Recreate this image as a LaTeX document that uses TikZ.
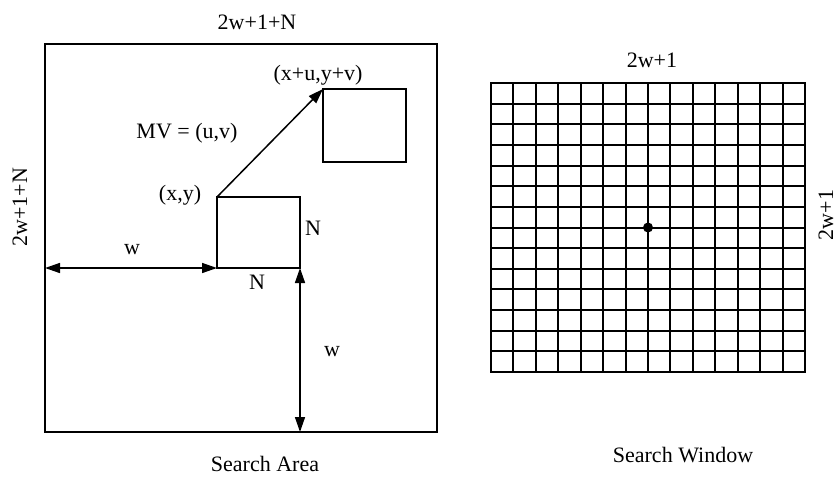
\documentclass[tikz,border=0pt]{standalone}
\usepackage{fontspec}
\setmainfont{Liberation Serif}
\usetikzlibrary{arrows.meta}
\begin{document}
\begin{tikzpicture}[x=1pt,y=-1pt,
  box/.style={draw, line width=1.6pt, inner sep=0pt, outer sep=0pt},
  lbl/.style={inner sep=0pt, font=\fontsize{22}{26}\selectfont},
  arr/.style={line width=1.5pt, {Triangle[length=15pt,width=10pt]}-{Triangle[length=15pt,width=10pt]}},
  onearr/.style={line width=1.5pt, -{Triangle[length=15pt,width=10pt]}},
  gridline/.style={line width=1.6pt}]
\useasboundingbox (0,0) rectangle (837,477);
% search area
\node[box, minimum width=392pt, minimum height=388pt] (area) at (241,238) {};
\node[box, minimum width=83pt, minimum height=71pt] (blk) at (258.5,232.5) {};
\node[box, minimum width=83pt, minimum height=73pt] (tgt) at (364.5,125.5) {};
\draw[onearr] (blk.north west) -- (tgt.north west);
\coordinate (wl) at (area.west |- blk.south west);
\coordinate (wb) at (blk.south east |- area.south);
\draw[arr] (wl) -- (blk.south west);
\draw[arr] (blk.south east) -- (wb);
\node[lbl] (t1) at (257,22) {2w+1+N};
\node[lbl, rotate=90] (t2) at (20,207) {2w+1+N};
\node[lbl] (t3) at (180,195) {(x,y)};
\node[lbl] (t4) at (318,75) {(x+u,y+v)};
\node[lbl] (t5) at (187,133) {MV = (u,v)};
\node[lbl] (t6) at (313,228) {N};
\node[lbl] (t7) at (257,282) {N};
\node[lbl] (t8) at (132,250) {w};
\node[lbl] (t9) at (332,352) {w};
\node[lbl] (t10) at (265,464) {Search Area};
% search window
\node[box, minimum width=314pt, minimum height=289pt] (win) at (648,227.5) {};
\foreach \i in {1,...,13} {
  \pgfmathsetmacro{\gx}{round(491+\i*22.4286)}
  \pgfmathsetmacro{\gy}{round(83+\i*20.6429)}
  \draw[gridline] (\gx,83) -- (\gx,372);
  \draw[gridline] (491,\gy) -- (805,\gy);
}
\fill (win.center) circle (5pt);
\node[lbl] (t11) at (652,60) {2w+1};
\node[lbl, rotate=90] (t12) at (826,215) {2w+1};
\node[lbl] (t13) at (683,455) {Search Window};
\end{tikzpicture}
\end{document}
